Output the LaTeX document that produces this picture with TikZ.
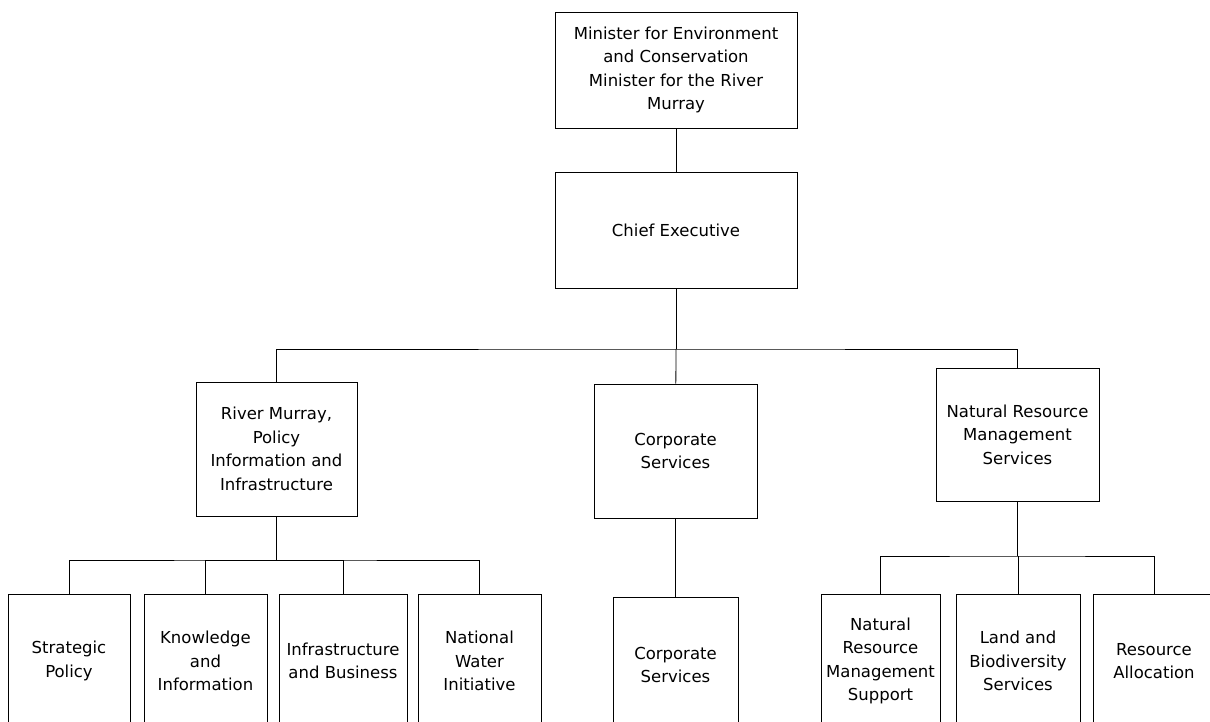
\documentclass[tikz,border=0pt]{standalone}
\usepackage{fontspec}
\setmainfont{DejaVu Sans}

\begin{document}
\begin{tikzpicture}[x=1pt, y=-1pt,
    unit/.style={draw, line width=0.8pt, align=center, inner sep=0pt,
        font=\fontsize{16.5}{23.5}\selectfont},
    wide/.style={minimum width=242pt, minimum height=116pt},
    branch/.style={minimum width=163pt, minimum height=134pt},
    leaf/.style={minimum width=#1, minimum height=134pt},
    link/.style={line width=0.8pt}]
    \clip (0,0) rectangle (1210,722);

    % minister and chief executive
    \node[unit, wide] (minister) at (676,70) {Minister for Environment\\
        and Conservation\\Minister for the River\\Murray};
    \node[unit, wide] (chief) at (676,230) {Chief Executive};

    % divisions
    \node[unit, branch, minimum width=161pt] (rmpii) at (276.5,449) {River Murray,\\
        Policy\\Information and\\Infrastructure};
    \node[unit, branch] (corp) at (675.5,451) {Corporate\\Services};
    \node[unit, branch, minimum height=133pt] (nrm) at (1017.5,434.5) {Natural Resource\\
        Management\\Services};

    % branches under each division
    \node[unit, leaf=122pt] (strat) at (69,661) {Strategic\\Policy};
    \node[unit, leaf=123pt] (know) at (205.5,661) {Knowledge\\and\\Information};
    \node[unit, leaf=128pt] (infra) at (343,661) {Infrastructure\\and Business};
    \node[unit, leaf=123pt] (nwi) at (479.5,661) {National\\Water\\Initiative};
    \node[unit, leaf=125pt, minimum height=136pt] (corpsvc) at (675.5,665) {Corporate\\Services};
    \node[unit, leaf=119pt] (nrmsup) at (880.5,661) {Natural\\Resource\\Management\\Support};
    \node[unit, leaf=124pt] (land) at (1018,661) {Land and\\Biodiversity\\Services};
    \node[unit, leaf=122pt] (alloc) at (1154,661) {Resource\\Allocation};

    % bus points
    \coordinate (top) at (676,349);
    \coordinate (left) at (276.5,560);
    \coordinate (right) at (1017.5,556);

    \draw[link] (minister) -- (chief);
    \draw[link] (chief) -- (top);
    \draw[link] (rmpii.north) |- (top) -| (nrm.north);
    \draw[link] (top) -- (corp);
    \draw[link] (corp) -- (corpsvc);

    \draw[link] (rmpii) -- (left);
    \draw[link] (strat.north) |- (left) -| (nwi.north);
    \draw[link] (know.north) |- (left);
    \draw[link] (infra.north) |- (left);

    \draw[link] (nrm) -- (right);
    \draw[link] (nrmsup.north) |- (right) -| (alloc.north);
    \draw[link] (land.north) |- (right);
\end{tikzpicture}
\end{document}
